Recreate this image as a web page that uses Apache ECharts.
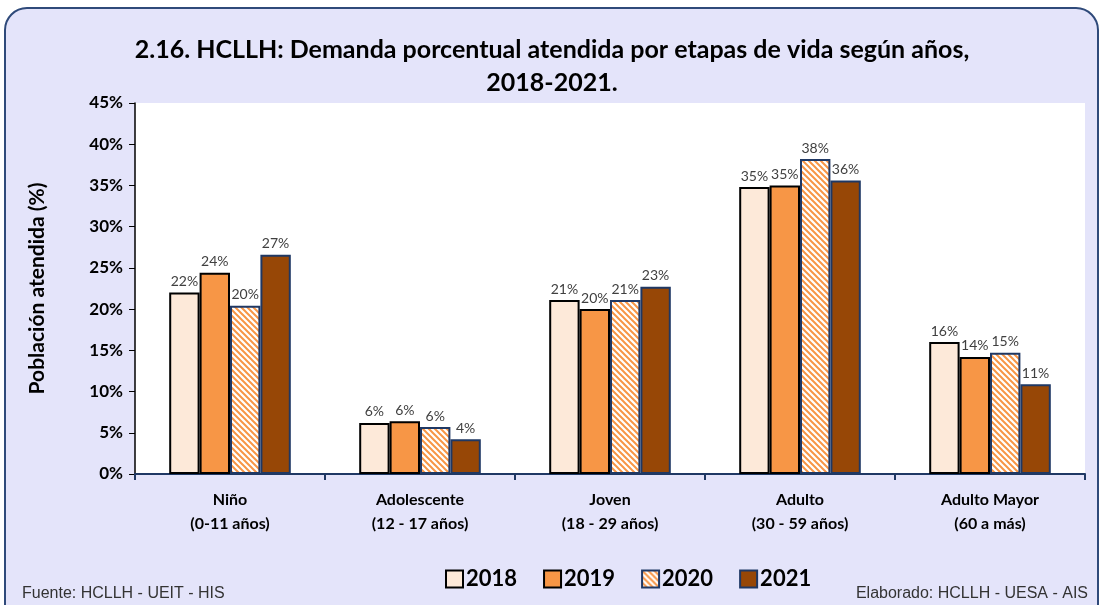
<!DOCTYPE html>
<html>
<head>
<meta charset="utf-8">
<script src="https://cdn.jsdelivr.net/npm/echarts@6/dist/echarts.min.js"></script>
<style>
  html, body { margin: 0; padding: 0; background: #ffffff; }
  #chart { width: 1104px; height: 605px; }
</style>
</head>
<body>
<div id="chart"></div>
<script>
// datos del grafico
var categorias = ['Niño\n(0-11 años)', 'Adolescente\n(12 - 17 años)', 'Joven\n(18 - 29 años)', 'Adulto\n(30 - 59 años)', 'Adulto Mayor\n(60 a más)'];
var anios = ['2018', '2019', '2020', '2021'];
var v2018 = [22.0, 6.2, 21.1, 34.8, 16.0];
var v2019 = [24.4, 6.4, 20.0, 35.0, 14.2];
var v2020 = [20.4, 5.7, 21.1, 38.2, 14.7];
var v2021 = [26.6, 4.2, 22.7, 35.6, 10.9];
var ticksY = [0, 5, 10, 15, 20, 25, 30, 35, 40, 45];

// patron rayado para 2020
function rayas() {
    var c = document.createElement('canvas');
    c.width = 6; c.height = 6;
    var ctx = c.getContext('2d');
    ctx.fillStyle = '#ffffff';
    ctx.fillRect(0, 0, 6, 6);
    ctx.strokeStyle = '#F79646';
    ctx.lineWidth = 2;
    ctx.beginPath();
    ctx.moveTo(-1, -1); ctx.lineTo(7, 7);
    ctx.moveTo(-4, 2); ctx.lineTo(4, 10);
    ctx.moveTo(2, -4); ctx.lineTo(10, 4);
    ctx.stroke();
    return c;
}

var myChart = echarts.init(document.getElementById('chart'));

var etiqueta = {
    show: true,
    position: 'top',
    distance: 4,
    color: '#404040',
    fontSize: 14,
    fontFamily: 'Lato',
    formatter: function (p) { return Math.round(p.value) + '%'; }
};

function serie(nombre, datos, relleno, borde) {
    return {
        name: nombre,
        type: 'bar',
        data: datos,
        barGap: '0%',
        barCategoryGap: '36%',
        itemStyle: { color: relleno, borderColor: borde, borderWidth: 2 },
        label: etiqueta
    };
}

var option = {
    backgroundColor: '#ffffff',
    graphic: [{
        type: 'rect',
        shape: { x: 5, y: 8, width: 1093, height: 620, r: 22 },
        style: { fill: '#E4E4FA', stroke: '#2F4A7A', lineWidth: 2 },
        z: -10
    }, {
        type: 'text',
        left: 22, top: 586,
        style: { text: 'Fuente: HCLLH - UEIT - HIS', fill: '#333', font: '16px "Liberation Sans Narrow", "Liberation Sans"' }
    }, {
        type: 'text',
        right: 16, top: 586,
        style: { text: 'Elaborado: HCLLH - UESA - AIS', fill: '#333', font: '16px "Liberation Sans Narrow", "Liberation Sans"' }
    }],
    title: {
        text: '2.16. HCLLH: Demanda porcentual atendida por etapas de vida según años,\n2018-2021.',
        left: 'center',
        top: 28,
        textStyle: { fontFamily: 'Lato', fontWeight: 'bold', fontSize: 25, color: '#000', lineHeight: 33 }
    },
    legend: {
        data: anios,
        bottom: 10,
        left: 440,
        itemWidth: 17,
        itemHeight: 17,
        itemGap: 26,
        icon: 'rect',
        textStyle: { fontFamily: 'Lato', fontWeight: 'bold', fontSize: 22, color: '#000', padding: [0, 0, 0, -2] }
    },
    grid: {
        left: 135, right: 19, top: 103, bottom: 131,
        show: true, backgroundColor: '#ffffff', borderWidth: 0
    },
    xAxis: {
        type: 'category',
        data: categorias,
        axisLine: { lineStyle: { color: '#1F3864', width: 2 } },
        axisTick: { show: true, length: 6, lineStyle: { color: '#1F3864', width: 2 } },
        axisLabel: { fontFamily: 'Lato', fontWeight: 'bold', fontSize: 16, color: '#000', lineHeight: 24, margin: 14 }
    },
    yAxis: {
        type: 'value',
        min: ticksY[0],
        max: ticksY[ticksY.length - 1],
        interval: 5,
        name: 'Población atendida (%)',
        nameLocation: 'middle',
        nameGap: 87,
        nameTextStyle: { fontFamily: 'Lato', fontWeight: 'bold', fontSize: 21, color: '#000' },
        axisLine: { show: true, lineStyle: { color: '#000', width: 1.5 } },
        axisTick: { show: true, length: 6, lineStyle: { color: '#000' } },
        splitLine: { show: false },
        axisLabel: { fontFamily: 'Lato', fontWeight: 'bold', fontSize: 17, color: '#000', margin: 12, formatter: '{value}%' }
    },
    series: [
        serie('2018', v2018, '#FDE9D9', '#000000'),
        serie('2019', v2019, '#F79646', '#000000'),
        serie('2020', v2020, { image: rayas(), repeat: 'repeat' }, '#1F3864'),
        serie('2021', v2021, '#974706', '#1F3864')
    ]
};

myChart.setOption(option);
</script>
</body>
</html>
